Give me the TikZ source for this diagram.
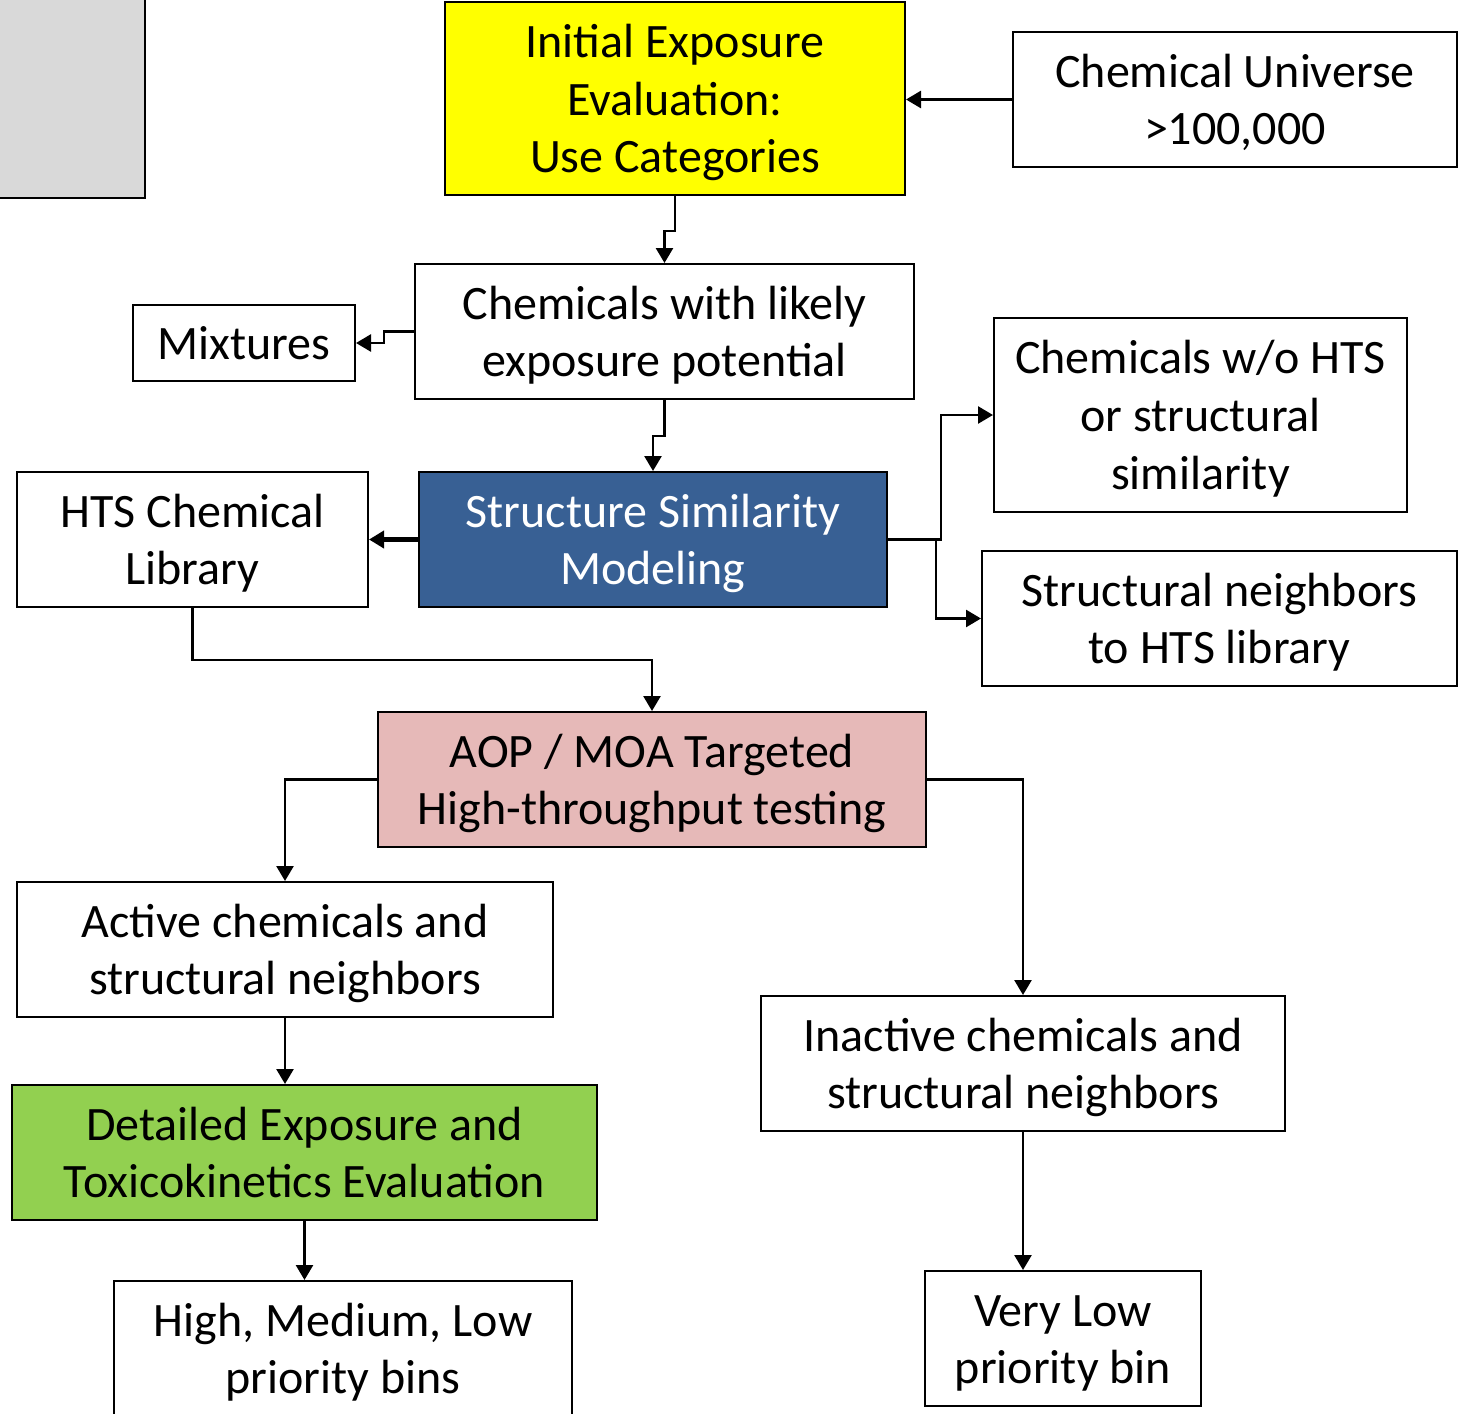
\documentclass[tikz,border=0pt]{standalone}
\usepackage{fontspec}
\setmainfont{Carlito}
\usetikzlibrary{arrows.meta,calc}
\definecolor{ieyellow}{HTML}{FFFF00}
\definecolor{ssmblue}{HTML}{386094}
\definecolor{aoppink}{HTML}{E6B9B8}
\definecolor{detgreen}{HTML}{92D050}
\definecolor{graybox}{HTML}{D9D9D9}
\newcommand{\tstr}{\rule{0pt}{23pt}}
\tikzset{
  box/.style={draw=black, line width=1pt, fill=white, inner sep=0pt, align=center,
    font=\fontsize{24}{28.8}\selectfont, minimum height=67.5pt,
    execute at end node={\rule[-6.5pt]{0pt}{6.5pt}}},
  arr/.style={draw=black, line width=1.3pt, -{Triangle[length=7.5pt,width=8.5pt]}},
}
\begin{document}
\begin{tikzpicture}[x=0.5pt,y=-0.5pt]
\useasboundingbox (0,0) rectangle (1458,1414);
\clip (0,0) rectangle (1458,1414);
\fill[graybox] (-10,-10) rectangle (145,198);
\draw[line width=1.2pt] (-10,198) -- (145,198) -- (145,-10);

\node[box, fill=ieyellow, minimum width=230pt, minimum height=96.5pt] (ie) at (675,98.5) {\tstr Initial Exposure\\Evaluation:\\Use Categories};
\node[box, minimum width=222pt] (cu) at (1235,99.5) {\tstr Chemical Universe\\>100,000};
\node[box, minimum width=249.5pt] (cl) at (664.5,331.5) {\tstr Chemicals with likely\\exposure potential};
\node[box, minimum width=111pt, minimum height=38pt] (mix) at (244,343) {\tstr Mixtures};
\node[box, minimum width=206.5pt, minimum height=97pt] (wo) at (1200.5,415) {\tstr Chemicals w/o HTS\\or structural\\similarity};
\node[box, minimum width=175.5pt] (hts) at (192.5,539.5) {\tstr HTS Chemical\\Library};
\node[box, fill=ssmblue, text=white, minimum width=234pt] (ssm) at (653,539.5) {\tstr Structure Similarity\\Modeling};
\node[box, minimum width=237.5pt] (sn) at (1219.5,618.5) {\tstr Structural neighbors\\to HTS library};
\node[box, fill=aoppink, minimum width=274pt] (aop) at (652,779.5) {\tstr AOP / MOA Targeted\\High-throughput testing};
\node[box, minimum width=268pt] (act) at (285,949.5) {\tstr Active chemicals and\\structural neighbors};
\node[box, minimum width=262pt] (inact) at (1023,1063.5) {\tstr Inactive chemicals and\\structural neighbors};
\node[box, fill=detgreen, minimum width=292.5pt] (det) at (304.5,1152.5) {\tstr Detailed Exposure and\\Toxicokinetics Evaluation};
\node[box, minimum width=229pt] (hml) at (343,1348.5) {\tstr High, Medium, Low\\priority bins};
\node[box, minimum width=138pt] (vl) at (1063,1338.5) {\tstr Very Low\\priority bin};

\draw[arr] (cu.west) -- (cu.west -| ie.east);
\draw[arr] (ie.south) -- ++(0,35) -| (cl.north);
\draw[arr] (cl.west) -- ++(-30,0) |- (mix.east);
\draw[arr] (cl.south) -- ++(0,36) -| (ssm.north);
\draw[arr, line width=2.2pt] (ssm.west) -- (hts.east);
\draw[arr] (ssm.east) -- ++(53,0) |- (wo.west);
\draw[arr] (ssm.east) -- ++(48,0) |- (sn.west);
\draw[arr] (hts.south) -- ++(0,52) -| (aop.north);
\draw[arr] (aop.west) -| (act.north);
\draw[arr] (aop.east) -| (inact.north);
\draw[arr] (act.south) -- (act.south |- det.north);
\draw[arr] (det.south) -- (det.south |- hml.north);
\draw[arr] (inact.south) -- (inact.south |- vl.north);
\end{tikzpicture}
\end{document}
